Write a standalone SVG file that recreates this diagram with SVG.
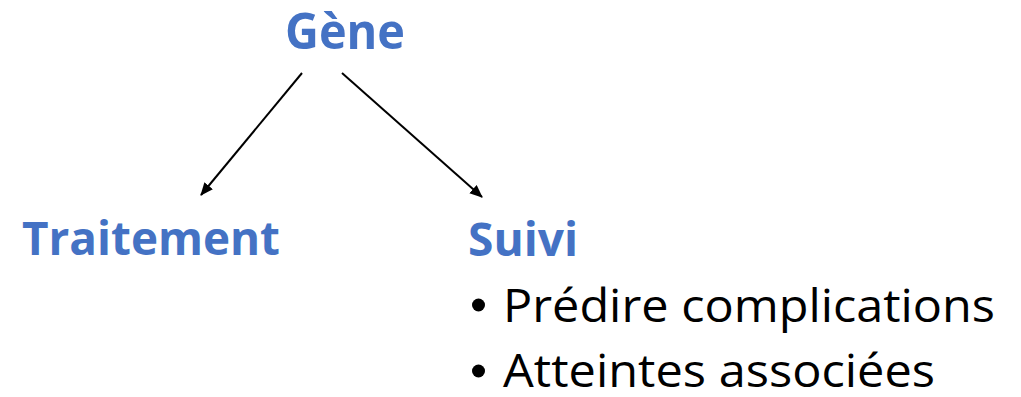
<svg xmlns="http://www.w3.org/2000/svg" width="1021" height="397" viewBox="0 0 1021 397">
  <style>
    .title { font-family: "Open Sans", "Liberation Sans", sans-serif; font-weight: bold; fill: #4472C4; }
    .body { font-family: "Open Sans", "Liberation Sans", sans-serif; fill: #000000; font-size: 45px; }
    .conn { stroke: #000000; stroke-width: 2; fill: none; }
  </style>
  <defs>
    <marker id="arrow" markerUnits="userSpaceOnUse" markerWidth="14" markerHeight="12" refX="12" refY="5.5" orient="auto">
      <path d="M0,0 L13,5.5 L0,11 z" fill="#000000"/>
    </marker>
  </defs>
  <g id="connectors">
    <line class="conn" x1="302" y1="73" x2="201" y2="195" marker-end="url(#arrow)"/>
    <line class="conn" x1="342" y1="73" x2="482" y2="197" marker-end="url(#arrow)"/>
  </g>
  <g id="gene">
    <text class="title" x="285" y="49" font-size="50" textLength="120" lengthAdjust="spacingAndGlyphs">Gène</text>
  </g>
  <g id="traitement">
    <text class="title" x="22" y="255" font-size="46" textLength="258" lengthAdjust="spacingAndGlyphs">Traitement</text>
  </g>
  <g id="suivi">
    <text class="title" x="468" y="256" font-size="46" textLength="110" lengthAdjust="spacingAndGlyphs">Suivi</text>
    <circle cx="478.5" cy="305" r="6.5" fill="#000000"/>
    <text class="body" x="503" y="322" textLength="492" lengthAdjust="spacingAndGlyphs">Prédire complications</text>
    <circle cx="478.5" cy="371" r="6.5" fill="#000000"/>
    <text class="body" x="503" y="387" textLength="432" lengthAdjust="spacingAndGlyphs">Atteintes associées</text>
  </g>
</svg>
